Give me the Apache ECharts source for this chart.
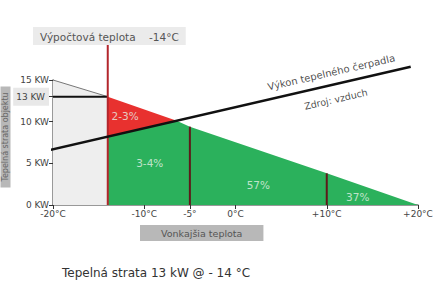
<!DOCTYPE html>
<html><head><meta charset="utf-8">
<script src="https://cdn.jsdelivr.net/npm/echarts@6/dist/echarts.min.js"></script>
<style>html,body{margin:0;padding:0;background:#fff}#c{width:438px;height:292px}</style>
</head><body><div id="c"></div>
<script>
// Data
const xTicks = [-20, -10, -5, 0, 10, 20];
const xTickLabels = ['-20°C', '-10°C', '-5°', '0°C', '+10°C', '+20°C'];
const yTicks = [0, 5, 10, 13, 15];
const yTickLabels = ['0 KW', '5 KW', '10 KW', '13 KW', '15 KW'];
const yAxisName = 'Tepelná strata objektu';
// heat loss of the building (kW) vs outdoor temperature
const lossLeft = [[-20, 15], [-14, 13]];
const lossRed = [[-14, 13], [-6.45, 10.1]];
// green region top (pump line to intersection, then loss line)
const greenTop = [[-14, 8.2], [-6.45, 10.1], [-5, 9.4], [10, 3.8], [20, 0]];
// heat pump output line
const pumpLine = [[-20.3, 6.6], [19.2, 16.6]];
const designTemp = -14;
const designTop = 19.2;
const designLoss = 13;
const markers = [[-5, 9.4], [10, 3.8]];
const shareLabels = ['2-3%', '3-4%', '57%', '37%'];
const sharePos = [[-12.1, 10.7], [-9.4, 5.0], [2.5, 2.4], [13.4, 1.0]];
const pumpTexts = ['Výkon tepelného čerpadla', 'Zdroj: vzduch'];
const pumpTextPos = [[10.5, 15.9], [11.0, 12.7]];
const pumpTextSize = [10, 9.5];

const FONT = 'DejaVu Sans';
const chart = echarts.init(document.getElementById('c'), null, {renderer: 'svg'});
const lineS = (data, color, width, extra) => Object.assign({
  type: 'line', data, symbol: 'none', clip: false, silent: true,
  lineStyle: {color, width}, animation: false
}, extra || {});

chart.setOption({
  animation: false,
  textStyle: {fontFamily: FONT},
  title: [
    {text: 'Výpočtová teplota    -14°C', left: 33, top: 27, backgroundColor: '#ebebeb', padding: [4, 7, 3, 7],
     textStyle: {fontFamily: FONT, fontSize: 10.5, fontWeight: 'normal', color: '#555'}},
    {text: 'Vonkajšia teplota', left: 140, top: 225, backgroundColor: '#b8b8b8', padding: [3, 21, 3, 21],
     textStyle: {fontFamily: FONT, fontSize: 9.5, fontWeight: 'normal', color: '#555'}},
    {text: 'Tepelná strata 13 kW @ - 14 °C', left: 57, top: 262,
     textStyle: {fontFamily: FONT, fontSize: 12, fontWeight: 'normal', color: '#333'}}
  ],
  graphic: [{
    type: 'text', x: 5.5, y: 137, rotation: Math.PI / 2, silent: true,
    style: {text: yAxisName, fontFamily: FONT, fontSize: 8, fill: '#666', align: 'center', verticalAlign: 'middle',
      backgroundColor: '#b8b8b8', padding: [1, 6, 1, 6]}
  }],
  grid: {left: 53, right: 20, top: 80, bottom: 87, containLabel: false, outerBoundsMode: 'none'},
  xAxis: {
    type: 'value', min: -20, max: 20,
    axisLine: {onZero: false, lineStyle: {color: '#777', width: 1.5}},
    axisTick: {customValues: xTicks, length: 4, lineStyle: {color: '#333'}},
    axisLabel: {customValues: xTicks, fontSize: 9, color: '#444', fontFamily: FONT, margin: 4,
      formatter: v => xTickLabels[xTicks.indexOf(v)]},
    splitLine: {show: false}
  },
  yAxis: {
    type: 'value', min: 0, max: 15,
    axisLine: {show: true, onZero: false, lineStyle: {color: '#777', width: 1.5}},
    axisTick: {show: true, customValues: yTicks, length: 4, lineStyle: {color: '#333'}},
    axisLabel: {customValues: yTicks, fontSize: 9, color: '#444', fontFamily: FONT, margin: 4,
      formatter: v => v === designLoss ? '{hl|' + yTickLabels[yTicks.indexOf(v)] + '}' : yTickLabels[yTicks.indexOf(v)],
      rich: {hl: {backgroundColor: '#e8e8e8', padding: [5, 4, 4, 3], fontSize: 9, color: '#444', fontFamily: FONT}}},
    splitLine: {show: false}
  },
  series: [
    lineS(lossLeft, '#777', 1, {areaStyle: {color: '#eeeeee', opacity: 1}, z: 1}),
    lineS(lossRed, '#e8312f', 0, {areaStyle: {color: '#e8312f', opacity: 1}, z: 2}),
    lineS(greenTop, '#2bb15c', 0, {areaStyle: {color: '#2bb15c', opacity: 1}, z: 3}),
    lineS([[lossLeft[0][0], designLoss], [designTemp, designLoss]], '#111', 2, {z: 5}),
    lineS([[designTemp, 0], [designTemp, designTop]], '#b3262c', 2, {z: 6}),
    ...markers.map(m => lineS([[m[0], 0], m], '#5e1a1a', 2, {z: 6})),
    lineS(pumpLine, '#111', 2.5, {z: 7}),
    {
      type: 'scatter', silent: true, clip: false, symbolSize: 0, z: 8,
      data: sharePos.map((p, i) => ({value: p, name: shareLabels[i]})),
      label: {show: true, position: 'inside', formatter: p => p.name, color: '#e6f2e6', fontSize: 10.5, fontFamily: FONT}
    },
    {
      type: 'scatter', silent: true, clip: false, symbolSize: 0, z: 8,
      data: pumpTextPos.map((p, i) => ({value: p, name: pumpTexts[i], label: {fontSize: pumpTextSize[i]}})),
      label: {show: true, position: 'inside', rotate: 13, formatter: p => p.name, color: '#222', fontFamily: FONT}
    }
  ]
});
</script></body></html>
